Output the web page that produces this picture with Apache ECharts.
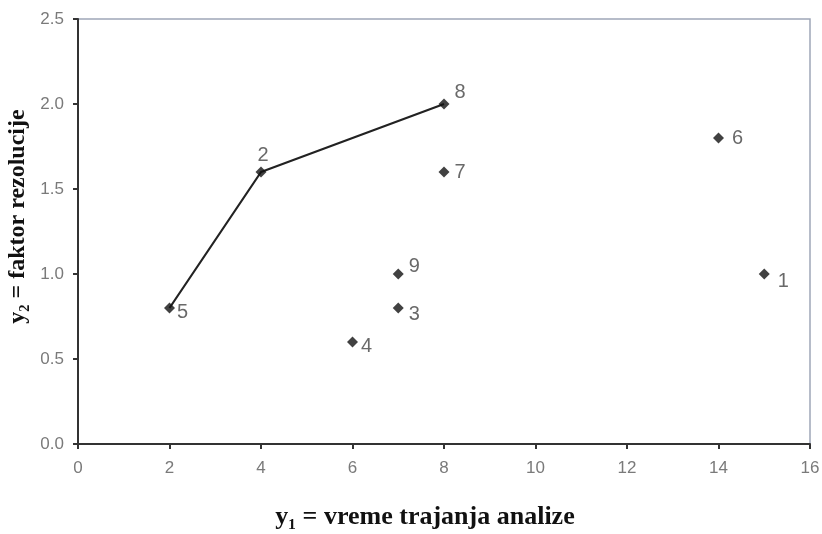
<!DOCTYPE html>
<html>
<head>
<meta charset="utf-8">
<script src="https://cdn.jsdelivr.net/npm/echarts@6/dist/echarts.min.js"></script>
<style>html,body{margin:0;padding:0;background:#fff}#c{width:822px;height:534px}</style>
</head>
<body>
<div id="c"></div>
<script>
// Data
var pointNames = ['1','2','3','4','5','6','7','8','9'];
var xValues    = [15, 4, 7, 6, 2, 14, 8, 8, 7];
var yValues    = [1.0, 1.6, 0.8, 0.6, 0.8, 1.8, 1.6, 2.0, 1.0];
var lineNames  = ['5','2','8'];
var xTicks = [0,2,4,6,8,10,12,14,16];
var yTicks = [0.0,0.5,1.0,1.5,2.0,2.5];

// Label placement (style)
var labelStyle = {
  '1': [4, 7],
  '2': [-13, -17],
  '3': [1, 6],
  '4': [-1, 4],
  '5': [-2, 4],
  '6': [4, 0],
  '7': [1, 0],
  '8': [1, -12],
  '9': [1, -8]
};

var scatterData = pointNames.map(function(n,i){
  return {name:n, value:[xValues[i], yValues[i]], label:{offset:labelStyle[n]}};
});
var lineData = lineNames.map(function(n){
  var i = pointNames.indexOf(n);
  return [xValues[i], yValues[i]];
});

var chart = echarts.init(document.getElementById('c'));
chart.setOption({
  animation:false,
  backgroundColor:'#fff',
  grid:{left:78, right:12, top:19, bottom:90, containLabel:false, outerBoundsMode:'none',
    show:true, borderColor:'#9ea6b8', borderWidth:1.5, backgroundColor:'transparent'},
  xAxis:{
    type:'value', min:xTicks[0], max:xTicks[xTicks.length-1], interval:2,
    name:'y\u2081 = vreme trajanja analize', nameLocation:'middle', nameGap:60,
    nameTextStyle:{fontFamily:'Liberation Serif', fontWeight:'bold', fontSize:26, color:'#111', padding:[0,38,0,0]},
    axisLine:{show:true, onZero:false, lineStyle:{color:'#333', width:2}},
    axisTick:{show:true, inside:false, length:5, lineStyle:{color:'#333', width:2}},
    axisLabel:{margin:16, color:'#7a7a7a', fontSize:17, fontFamily:'Liberation Sans'},
    splitLine:{show:false}
  },
  yAxis:{
    type:'value', min:yTicks[0], max:yTicks[yTicks.length-1], interval:0.5,
    name:'y\u2082 = faktor rezolucije', nameLocation:'middle', nameGap:40,
    nameTextStyle:{fontFamily:'Liberation Serif', fontWeight:'bold', fontSize:24, color:'#111', padding:[0,0,0,30]},
    axisLine:{show:true, onZero:false, lineStyle:{color:'#333', width:2}},
    axisTick:{show:true, inside:false, length:5, lineStyle:{color:'#333', width:2}},
    axisLabel:{margin:14, color:'#7a7a7a', fontSize:17, fontFamily:'Liberation Sans',
      formatter:function(v){return v.toFixed(1);}},
    splitLine:{show:false}
  },
  series:[
    {type:'line', data:lineData, symbol:'none', lineStyle:{color:'#222', width:2.2}, z:2, silent:true},
    {type:'scatter', data:scatterData, symbol:'diamond', symbolSize:11, itemStyle:{color:'#111'}, z:3,
      label:{show:true, position:'right', formatter:'{b}', color:'#444', fontSize:20, fontFamily:'Liberation Sans', distance:4}}
  ]
});
</script>
</body>
</html>
